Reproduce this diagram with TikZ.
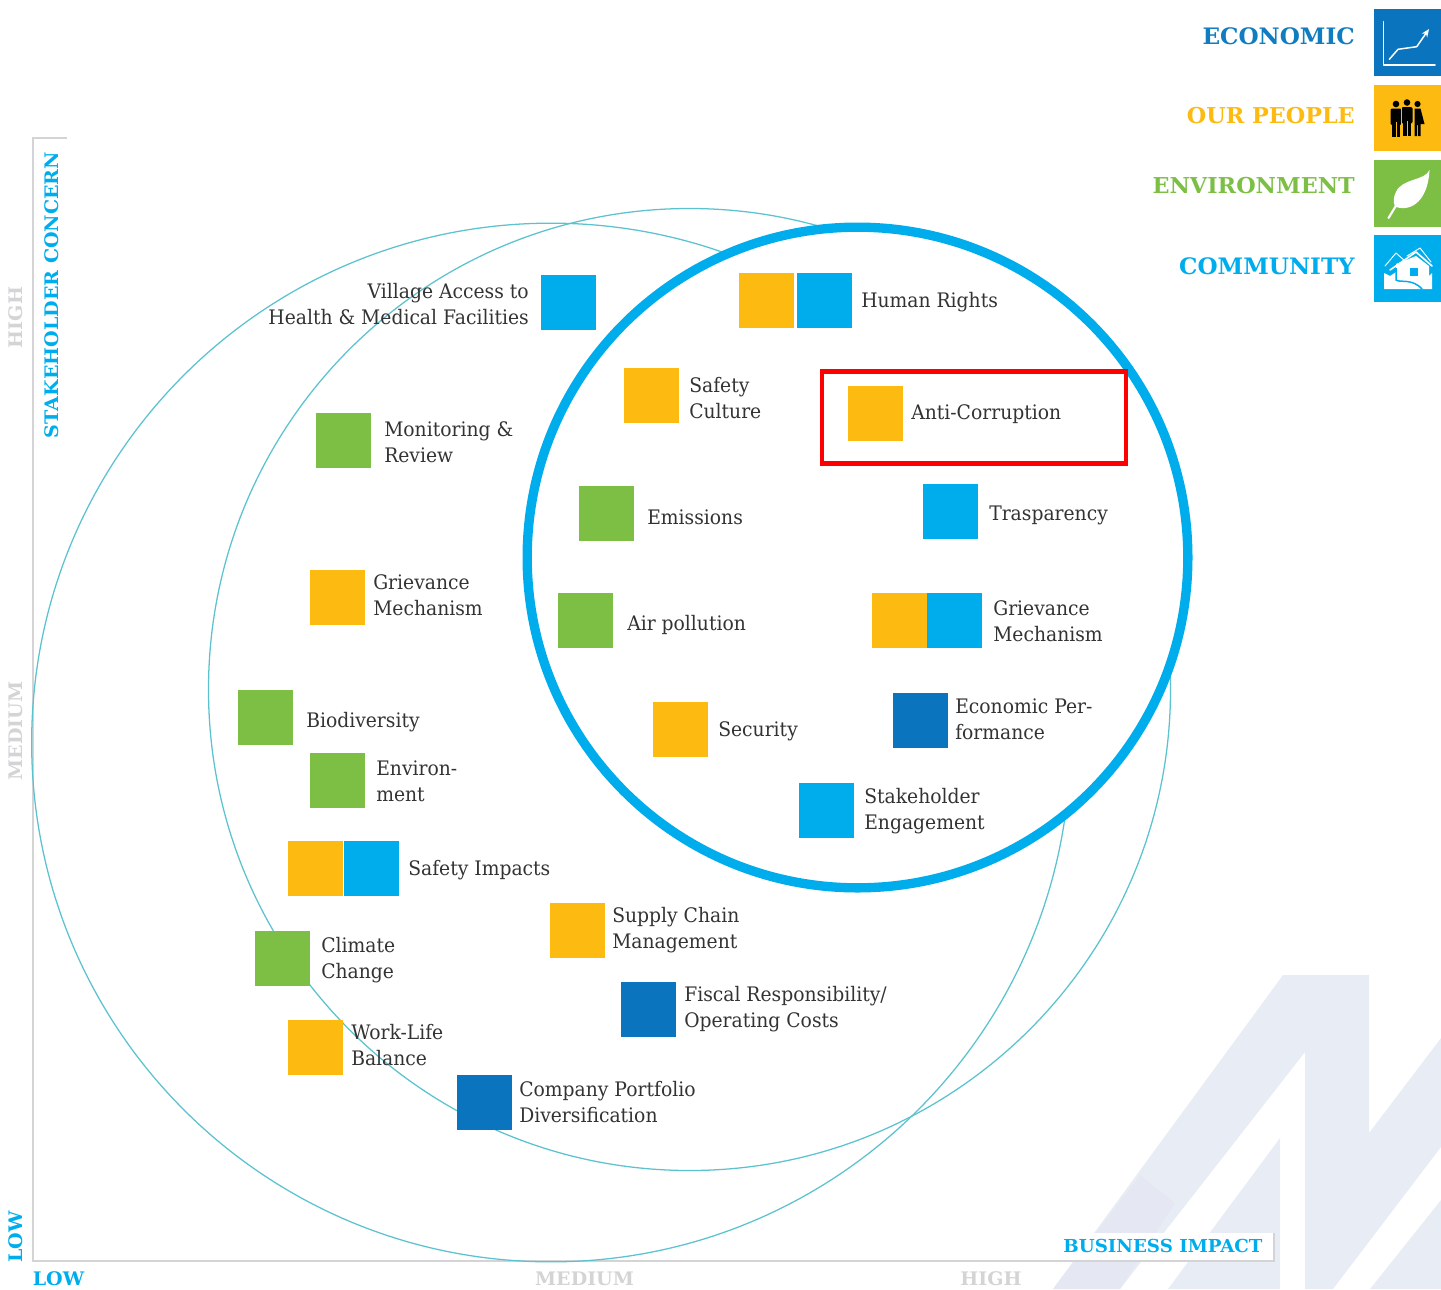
\documentclass[tikz,border=0pt]{standalone}
\usepackage{fontspec}
\usetikzlibrary{arrows.meta}
\setmainfont{DejaVu Serif}[FakeStretch=0.937]
\newfontfamily\headfont{DejaVu Serif Bold}[FakeStretch=1.02]
\definecolor{eco}{HTML}{0A74BF}
\definecolor{ppl}{HTML}{FDBB12}
\definecolor{env}{HTML}{7DBF45}
\definecolor{com}{HTML}{00ADEC}
\definecolor{heco}{HTML}{0F7DC0}
\definecolor{thin}{HTML}{5CC3CE}
\definecolor{wm}{HTML}{E8ECF5}
\definecolor{wmd}{HTML}{E5E8F3}
\definecolor{axisg}{HTML}{D4D4D6}
\definecolor{txt}{HTML}{333333}
\tikzset{
  sq/.style={minimum size=41.5pt,inner sep=0pt,outer sep=0pt,anchor=north west},
  ecosq/.style={sq,fill=eco},
  pplsq/.style={sq,fill=ppl},
  envsq/.style={sq,fill=env},
  comsq/.style={sq,fill=com},
  lbl/.style={anchor=west,align=left,inner sep=0pt,text=txt,font=\fontsize{15}{19.5}\selectfont},
  lblr/.style={lbl,anchor=east,align=right},
  head/.style={anchor=east,inner sep=0pt,font=\headfont\fontsize{17}{20}\selectfont},
  heads/.style={anchor=east,inner sep=0pt,font=\headfont\fontsize{16.4}{20}\selectfont},
  axlbl/.style={inner sep=0pt,font=\headfont\fontsize{14}{16}\selectfont},
  thinc/.style={draw=thin,line width=0.95pt},
  legsq/.style={minimum width=50pt,minimum height=50pt,inner sep=0pt,anchor=north west},
  ic/.style={draw=white,line width=1.1pt,line cap=round,line join=round},
}
\begin{document}
\begin{tikzpicture}[x=0.75pt,y=-0.75pt]
\useasboundingbox (0,0) rectangle (1441,1289);
% watermark
\fill[wm] (1283,975) -- (1369,975) -- (1369,1133) -- (1441,1038) -- (1441,1147) -- (1333,1289) -- (1305,1289) -- (1305,1052) -- (1120,1289) -- (1053,1289) -- cycle;
\fill[wm] (1280,1138) -- (1280,1289) -- (1168,1289) -- cycle;
\fill[wm] (1441,1200) -- (1441,1289) -- (1370,1289) -- cycle;
\fill[wmd] (1140,1175) -- (1175,1203) -- (1120,1289) -- (1053,1289) -- cycle;
% axes
\fill[white] (1065,1233) rectangle (1274,1261);
\coordinate (axtopr) at (67,138);
\coordinate (axtop) at (33,138);
\coordinate (axorig) at (33,1261);
\coordinate (axend) at (1274,1261);
\coordinate (axendt) at (1274,1233);
\draw[axisg,line width=1.4pt] (axtopr) -- (axtop) -- (axorig) -- (axend) -- (axendt);
% circles
\node[circle,thinc,minimum size=779pt,inner sep=0pt] (large) at (551,742.5) {};
\node[circle,thinc,minimum size=721.5pt,inner sep=0pt] (mid) at (689.5,689.5) {};
\node[circle,draw=com,fill=white,line width=7pt,minimum size=495.5pt,inner sep=0pt] (core) at (857.5,557.5) {};
% highlight
\node[draw=red,line width=3.2pt,minimum width=228pt,minimum height=69pt,inner sep=0pt] (hl) at (974,417.5) {};
% squares
\node[comsq] (s1) at (541,275) {};
\node[pplsq] (s2) at (739,273) {};
\node[comsq] (s3) at (797,273) {};
\node[pplsq] (s4) at (624,368) {};
\node[pplsq] (s5) at (848,386) {};
\node[envsq] (s6) at (316,413) {};
\node[envsq] (s7) at (579,486) {};
\node[comsq] (s8) at (923,484) {};
\node[pplsq] (s9) at (310,570) {};
\node[envsq] (s10) at (558,593) {};
\node[pplsq] (s11) at (872,593) {};
\node[comsq] (s12) at (927,593) {};
\node[envsq] (s13) at (238,690) {};
\node[pplsq] (s14) at (653,702) {};
\node[ecosq] (s15) at (893,693) {};
\node[envsq] (s16) at (310,753) {};
\node[comsq] (s17) at (799,783) {};
\node[pplsq] (s18) at (288,841) {};
\node[comsq] (s19) at (344,841) {};
\node[pplsq] (s20) at (550,903) {};
\node[envsq] (s21) at (255,931) {};
\node[ecosq] (s22) at (621,982) {};
\node[pplsq] (s23) at (288,1020) {};
\node[ecosq] (s24) at (457,1075) {};
% labels
\node[lblr] (t1) at (529,304) {Village Access to\\Health \& Medical Facilities};
\node[lbl] (t2) at (861,302) {Human Rights};
\node[lbl] (t3) at (689,398) {Safety\\Culture};
\node[lbl] (t4) at (911,414) {Anti-Corruption};
\node[lbl] (t5) at (384,442) {Monitoring \&\\Review};
\node[lbl] (t6) at (647,517) {Emissions};
\node[lbl] (t7) at (989,515) {Trasparency};
\node[lbl] (t8) at (373,595) {Grievance\\Mechanism};
\node[lbl] (t9) at (627,625) {Air pollution};
\node[lbl] (t10) at (993,621) {Grievance\\Mechanism};
\node[lbl] (t11) at (306,722) {Biodiversity};
\node[lbl] (t12) at (718,731) {Security};
\node[lbl] (t13) at (955,719) {Economic Per-\\formance};
\node[lbl] (t14) at (376,781) {Environ-\\ment};
\node[lbl] (t15) at (864,811) {Stakeholder\\Engagement};
\node[lbl] (t16) at (408,870) {Safety Impacts};
\node[lbl] (t17) at (612,930.5) {Supply Chain\\Management};
\node[lbl] (t18) at (321,960) {Climate\\Change};
\node[lbl] (t19) at (684,1009) {Fiscal Responsibility/\\Operating Costs};
\node[lbl] (t20) at (351,1045) {Work-Life\\Balance};
\node[lbl] (t21) at (519,1102) {Company Portfolio\\Diversification};
% legend
\node[head,text=heco] (h1) at (1355,36) {ECONOMIC};
\node[heads,text=ppl] (h2) at (1355,116) {OUR PEOPLE};
\node[heads,text=env] (h3) at (1355,186) {ENVIRONMENT};
\node[head,text=com] (h4) at (1355,266) {COMMUNITY};
\node[legsq,fill=eco] (l1) at (1374,9) {};
\node[legsq,fill=ppl] (l2) at (1374,84.5) {};
\node[legsq,fill=env] (l3) at (1374,160) {};
\node[legsq,fill=com] (l4) at (1374,235) {};
% chart icon
\draw[ic] (1383.3,21.7) -- (1383.3,65) -- (1435,65);
\draw[ic,-{Stealth[length=6pt,width=5pt]}] (1389.3,59.3) -- (1398,49.3) -- (1416.7,46.7) -- (1429,29);
% people icon
\foreach \px/\py in {1396/104,1407/102.5}{
  \fill[black] (\px,\py) circle[radius=3.3];
  \fill[black,rounded corners=1pt] (\px-5.5,\py+4.5) rectangle (\px+5.5,\py+21);
  \fill[black] (\px-3.6,\py+15) rectangle (\px+3.6,\py+33);
  \fill[ppl] (\px-0.35,\py+18) rectangle (\px+0.35,\py+33);
}
\fill[ppl] (1401.2,108) rectangle (1401.9,136);
\fill[black] (1417.5,104) circle[radius=3.1];
\fill[black] (1414.5,108.5) -- (1420.5,108.5) -- (1424.5,124) -- (1420.5,124) -- (1420.5,136) -- (1418,136) -- (1418,125) -- (1417,125) -- (1417,136) -- (1414.5,136) -- cycle;
% leaf icon
\fill[white] (1429.5,170) .. controls (1425,181) and (1402,178) .. (1396,192) .. controls (1392,200) and (1394,206) .. (1396,207) .. controls (1412,212) and (1428,200) .. cycle;
\draw[white,line width=1.6pt,line cap=round] (1397,204) -- (1388.5,218);
% houses icon
\draw[ic,line width=0.7pt] (1385,266) -- (1396,253) -- (1406,262);
\draw[ic,line width=0.7pt] (1407,256) -- (1420,248) -- (1431,262);
\draw[ic,line width=1.2pt] (1390,270) -- (1416,252) -- (1432,266);
\fill[white] (1384,273) -- (1390,276) -- (1396,272) -- (1396,264) -- (1416,256) -- (1429,266) -- (1429,276) -- (1432,273) -- (1432,289) -- (1384,289) -- cycle;
\fill[com] (1410,268) rectangle (1418,276);
\draw[com,line width=1.1pt] (1396,268) -- (1396,280) .. controls (1400,283) and (1412,278) .. (1422,289);
% axis labels
\node[axlbl,text=com,rotate=90] (a1) at (52,295) {STAKEHOLDER CONCERN};
\node[axlbl,text=axisg,rotate=90] (a2) at (16,317.5) {HIGH};
\node[axlbl,text=axisg,rotate=90] (a3) at (16,731) {MEDIUM};
\node[axlbl,text=com,rotate=90] (a4) at (16,1237) {LOW};
\node[axlbl,text=com] (a5) at (58.5,1279) {LOW};
\node[axlbl,text=axisg] (a6) at (584.5,1279) {MEDIUM};
\node[axlbl,text=axisg] (a7) at (991,1279) {HIGH};
\node[inner sep=0pt,text=com,font=\headfont\fontsize{13.4}{16}\selectfont] (a8) at (1163,1246) {BUSINESS IMPACT};
\end{tikzpicture}
\end{document}
